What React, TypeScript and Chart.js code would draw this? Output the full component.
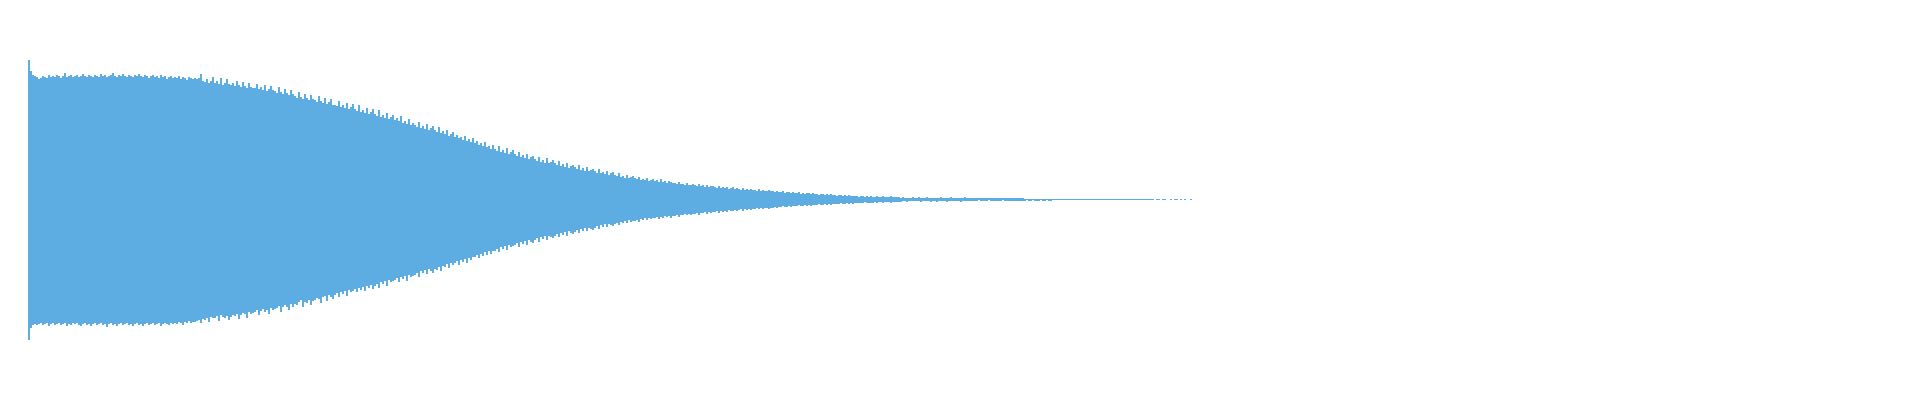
import React, { useEffect, useRef } from "react";
import { Chart, registerables } from "chart.js";

Chart.register(...registerables);

// Waveform drawn as one floating bar per 2px column (min/max of the samples in that column).
// x axis extent in columns and y axis range (amplitude units)
const COLUMN_COUNT = 932;
const Y_MIN = -172;
const Y_MAX = 172;
const WAVE_COLOR = "#5DADE2";

// upper envelope (max of each column)
const topAmp: number[] = [
  140, 129, 125,
  124, 123, 121, 122, 124, 123, 122, 125, 123, 124,
  123, 125, 124, 122, 124, 127, 123, 124, 125, 123,
  124, 125, 123, 124, 126, 124, 123, 125, 124, 123,
  125, 124, 123, 126, 124, 125, 123, 124, 125, 127,
  124, 123, 125, 124, 126, 124, 123, 125, 124, 123,
  125, 124, 126, 124, 123, 125, 124, 122, 124, 125,
  123, 124, 122, 125, 123, 124, 121, 123, 124, 122,
  123, 122, 124, 121, 123, 122, 120, 123, 122, 121,
  122, 121, 122, 126, 119, 118, 121, 117, 119, 123,
  117, 119, 116, 122, 115, 117, 121, 116, 115, 117,
  114, 119, 115, 113, 118, 114, 112, 117, 113, 112,
  112, 116, 111, 113, 110, 115, 109, 111, 114, 110,
  109, 107, 113, 108, 106, 111, 107, 105, 110, 106,
  104, 102, 108, 103, 101, 106, 102, 100, 105, 101,
  100, 98, 104, 99, 97, 102, 96, 98, 101, 95,
  95, 94, 99, 93, 95, 92, 97, 91, 93, 96,
  91, 89, 95, 88, 90, 87, 92, 86, 88, 91,
  86, 84, 90, 83, 85, 82, 87, 81, 83, 85,
  80, 82, 79, 84, 77, 79, 76, 81, 75, 77,
  75, 73, 78, 72, 74, 71, 76, 70, 72, 74,
  70, 68, 73, 67, 69, 66, 70, 64, 66, 68,
  63, 65, 62, 63, 60, 64, 59, 61, 58, 62,
  57, 59, 55, 57, 54, 58, 53, 54, 51, 55,
  51, 49, 54, 48, 50, 47, 52, 46, 48, 50,
  46, 44, 48, 43, 45, 42, 46, 41, 43, 44,
  41, 39, 43, 38, 40, 37, 42, 37, 38, 40,
  37, 35, 39, 34, 36, 33, 37, 32, 34, 35,
  33, 31, 35, 30, 32, 29, 33, 29, 30, 31,
  29, 27, 31, 27, 28, 26, 29, 25, 27, 28,
  25, 24, 27, 23, 24, 22, 25, 22, 23, 24,
  22, 21, 23, 20, 21, 20, 22, 19, 20, 21,
  19, 20, 18, 21, 18, 19, 17, 19, 18, 17,
  17, 16, 18, 16, 16, 15, 17, 15, 15, 16,
  15, 14, 16, 14, 15, 13, 15, 13, 14, 14,
  13, 12, 14, 12, 13, 12, 13, 11, 12, 13,
  11, 12, 11, 10, 12, 10, 11, 10, 11, 10,
  10, 9, 11, 9, 10, 9, 9, 10, 9, 9,
  8, 9, 8, 8, 9, 7, 8, 8, 7, 8,
  7, 7, 8, 6, 7, 6, 7, 7, 6, 7,
  6, 6, 5, 6, 6, 5, 6, 5, 6, 5,
  5, 4, 5, 5, 4, 5, 4, 5, 4, 4,
  4, 4, 3, 4, 4, 3, 4, 3, 4, 3,
  3, 4, 3, 3, 4, 3, 3, 3, 4, 3,
  3, 3, 3, 2, 3, 2, 2, 2, 2, 3,
  2, 2, 3, 2, 2, 2, 3, 2, 2, 2,
  2, 2, 2, 3, 2, 2, 2, 2, 3, 2,
  2, 2, 2, 2, 2, 3, 2, 2, 2, 2,
  2, 2, 2, 2, 2, 2, 2, 2, 2, 2,
  2, 2, 2, 2, 2, 2, 2, 2, 2, 2,
  2, 2, 2, 2, 2,
  1, 1, 1, 1, 1, 1, 1, 1, 1, 1, 1, 1, 1, 1,
  1, 1, 1, 1, 1, 1, 1, 1, 1, 1, 1, 1, 1, 1, 1, 1, 1,
  1, 1, 1, 1, 1, 1, 1, 1, 1, 1, 1, 1, 1, 1, 1, 1, 1,
  1, 1, 1, 1, 1, 1, 1, 1, 1, 1, 1, 1, 1, 1, 1, 1, 1,
  0, 1, 1, 0, 1, 1, 0, 0, 1, 0, 1, 1, 0, 1, 0, 1, 0, 0, 1,
];

// lower envelope (magnitude of the min of each column)
const bottomAmp: number[] = [
  140, 128, 125,
  124, 125, 124, 123, 125, 124, 123, 126, 124, 123,
  125, 124, 123, 125, 124, 123, 126, 124, 125, 123,
  124, 123, 125, 126, 124, 123, 125, 124, 126, 124,
  123, 125, 124, 123, 125, 124, 127, 124, 123, 125,
  124, 126, 124, 123, 125, 124, 123, 125, 124, 126,
  124, 123, 125, 124, 126, 124, 123, 125, 124, 123,
  125, 124, 123, 126, 124, 123, 124, 125, 123, 124,
  123, 124, 122, 123, 125, 122, 123, 121, 123, 122,
  122, 121, 120, 123, 119, 120, 118, 122, 117, 118,
  118, 116, 121, 115, 117, 118, 116, 120, 117, 115,
  116, 114, 119, 115, 113, 114, 118, 112, 114, 113,
  112, 110, 115, 111, 109, 112, 110, 114, 108, 110,
  109, 108, 106, 112, 107, 105, 107, 110, 104, 107,
  104, 105, 102, 100, 107, 102, 103, 100, 105, 101,
  100, 98, 99, 103, 97, 96, 101, 95, 97, 99,
  95, 93, 97, 92, 94, 91, 96, 90, 92, 91,
  89, 92, 88, 90, 87, 91, 86, 88, 85, 89,
  86, 84, 88, 82, 84, 81, 86, 80, 82, 81,
  80, 78, 82, 77, 79, 76, 81, 75, 77, 76,
  75, 73, 77, 71, 73, 70, 74, 69, 71, 73,
  69, 70, 67, 71, 66, 67, 64, 68, 63, 65,
  63, 61, 65, 60, 62, 59, 63, 58, 60, 57,
  57, 55, 58, 54, 56, 52, 55, 51, 54, 51,
  51, 49, 52, 47, 49, 46, 50, 45, 47, 46,
  45, 43, 47, 42, 44, 41, 45, 40, 42, 43,
  40, 38, 42, 37, 39, 36, 40, 36, 37, 38,
  36, 34, 37, 33, 35, 32, 36, 31, 33, 34,
  32, 30, 33, 29, 31, 28, 31, 28, 29, 30,
  28, 26, 29, 25, 27, 24, 27, 24, 25, 26,
  24, 23, 25, 22, 23, 21, 23, 20, 22, 21,
  21, 20, 22, 19, 20, 18, 20, 18, 19, 18,
  18, 17, 19, 17, 18, 16, 17, 16, 18, 16,
  16, 15, 17, 15, 15, 14, 15, 14, 15, 14,
  14, 13, 15, 13, 13, 12, 14, 12, 13, 12,
  12, 11, 13, 11, 12, 11, 12, 10, 11, 11,
  10, 11, 10, 9, 11, 9, 10, 9, 10, 9,
  9, 8, 9, 8, 9, 8, 8, 9, 8, 8,
  7, 8, 7, 7, 6, 7, 7, 6, 7, 6,
  6, 6, 5, 6, 6, 5, 6, 5, 6, 5,
  5, 5, 4, 5, 5, 4, 5, 4, 5, 4,
  4, 4, 4, 3, 4, 4, 3, 4, 3, 4,
  3, 3, 3, 3, 3, 2, 3, 3, 3, 3,
  2, 3, 2, 2, 3, 2, 2, 2, 3, 2,
  2, 2, 2, 2, 1, 1, 2, 1, 1, 1,
  1, 1, 1, 2, 1, 1, 1, 1, 2, 1,
  1, 2, 1, 1, 1, 1, 2, 1, 1, 1,
  1, 1, 1, 2, 1, 1, 1, 1, 1, 1,
  1, 1, 0, 1, 1, 1, 1, 0, 1, 1,
  1, 1, 1, 1, 0, 1, 1, 1, 1, 1,
  1, 1, 1, 1, 1,
  1, 0, 1, 1, 0, 1, 1, 1, 0, 1, 1, 0, 1, 1,
  0, 0, 0, 0, 0, 0, 0, 0, 0, 0, 0, 0, 0, 0, 0, 0, 0,
  0, 0, 0, 0, 0, 0, 0, 0, 0, 0, 0, 0, 0, 0, 0, 0, 0,
  0, 0, 0, 0, 0, 0, 0, 0, 0, 0, 0, 0, 0, 0, 0, 0, 0,
  0, 0, 0, 0, 0, 0, 0, 0, 0, 0, 0, 0, 0, 0, 0, 0, 0, 0, 0,
];

export default function App() {
  const canvasRef = useRef<HTMLCanvasElement | null>(null);

  useEffect(() => {
    if (!canvasRef.current) return;
    const points: { x: number; y: [number, number] }[] = [];
    topAmp.forEach((t, i) => {
      const b = bottomAmp[i] ?? 0;
      if (t === 0 && b === 0) return;
      points.push({ x: i + 0.5, y: [-b, t] });
    });

    const chart = new Chart(canvasRef.current, {
      type: "bar",
      data: {
        datasets: [
          {
            data: points as any,
            backgroundColor: WAVE_COLOR,
            borderWidth: 0,
            barThickness: 2,
            inflateAmount: 0,
            grouped: false,
          } as any,
        ],
      },
      options: {
        animation: false,
        responsive: true,
        maintainAspectRatio: false,
        events: [],
        layout: { padding: 20 },
        plugins: {
          legend: { display: false },
          tooltip: { enabled: false },
        },
        scales: {
          x: {
            type: "linear",
            min: 0,
            max: COLUMN_COUNT,
            offset: false,
            display: false,
          },
          y: {
            min: Y_MIN,
            max: Y_MAX,
            display: false,
          },
        },
      },
    });
    return () => chart.destroy();
  }, []);

  return (
    <div style={{ position: "relative", width: "100%", height: 384 }}>
      <canvas ref={canvasRef} />
    </div>
  );
}
